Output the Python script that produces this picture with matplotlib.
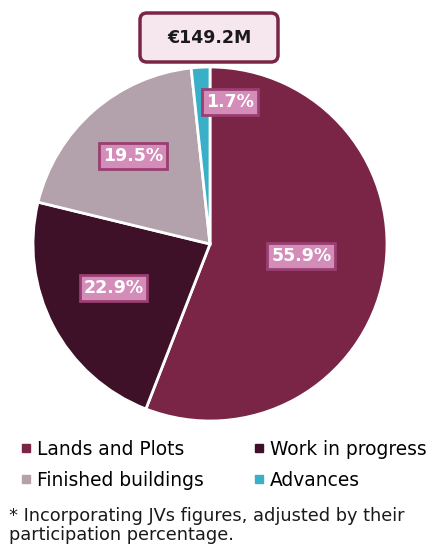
import matplotlib.pyplot as plt
from matplotlib.patches import FancyBboxPatch
from matplotlib.lines import Line2D
import numpy as np

# data
categories = ['Lands and Plots', 'Work in progress', 'Finished buildings', 'Advances']
shares = [55.9, 22.9, 19.5, 1.7]
labels = ['55.9%', '22.9%', '19.5%', '1.7%']
total_label = '€149.2M'
footnote = '* Incorporating JVs figures, adjusted by their\nparticipation percentage.'

colors = ['#7a2446', '#3e1128', '#b3a2ab', '#3aafc8']
box_face = '#d48cb9'
box_edge = '#9a3f72'

W, H = 433, 545
fig = plt.figure(figsize=(W / 100, H / 100), dpi=100)
ax = fig.add_axes([0, 0, 1, 1])

cx, cy, R = 210, H - 244, 177
wedges, _ = ax.pie(shares, colors=colors, startangle=90, counterclock=False,
                   center=(cx, cy), radius=R,
                   wedgeprops=dict(edgecolor='white', linewidth=2))
ax.set_xlim(0, W)
ax.set_ylim(0, H)
ax.set_aspect('equal')
ax.axis('off')

# label placement: fraction of radius and angle nudge per slice
dist = [0.52, 0.60, 0.66, 0.81]
nudge = [3, -3, 0, -11]
for w, lab, d, n in zip(wedges, labels, dist, nudge):
    ang = np.radians((w.theta1 + w.theta2) / 2 + n)
    x = cx + d * R * np.cos(ang)
    y = cy + d * R * np.sin(ang)
    ax.text(x, y, lab, ha='center', va='center', color='white',
            fontsize=12.5, fontweight='bold',
            bbox=dict(boxstyle='square,pad=0.22', fc=box_face, ec=box_edge, lw=2))

# total box at top
ax.add_patch(FancyBboxPatch((140, H - 62), 138, 49,
                            boxstyle='round,pad=0,rounding_size=7',
                            fc='#f6e7ef', ec='#7a2446', lw=2.5))
ax.text(209.5, H - 38, total_label, ha='center', va='center',
        fontsize=12.5, fontweight='bold', color='#1a1a1a')

handles = [Line2D([], [], marker='s', ls='none', markersize=5.5,
                  markerfacecolor=c, markeredgecolor=c) for c in colors]
order = [0, 2, 1, 3]
ax.legend([handles[i] for i in order], [categories[i] for i in order], ncol=2,
          loc='upper left', bbox_to_anchor=(21 / W, 1 - 440 / H),
          frameon=False, fontsize=13.4,
          handlelength=0.5, handletextpad=0.35, borderpad=0,
          columnspacing=2.72, labelspacing=0.63, borderaxespad=0)

fig.text(9 / W, 1 - 507 / H, footnote, ha='left', va='top',
         fontsize=12.8, color='#1a1a1a', linespacing=1.1)

fig.savefig('out.png', dpi=100)
